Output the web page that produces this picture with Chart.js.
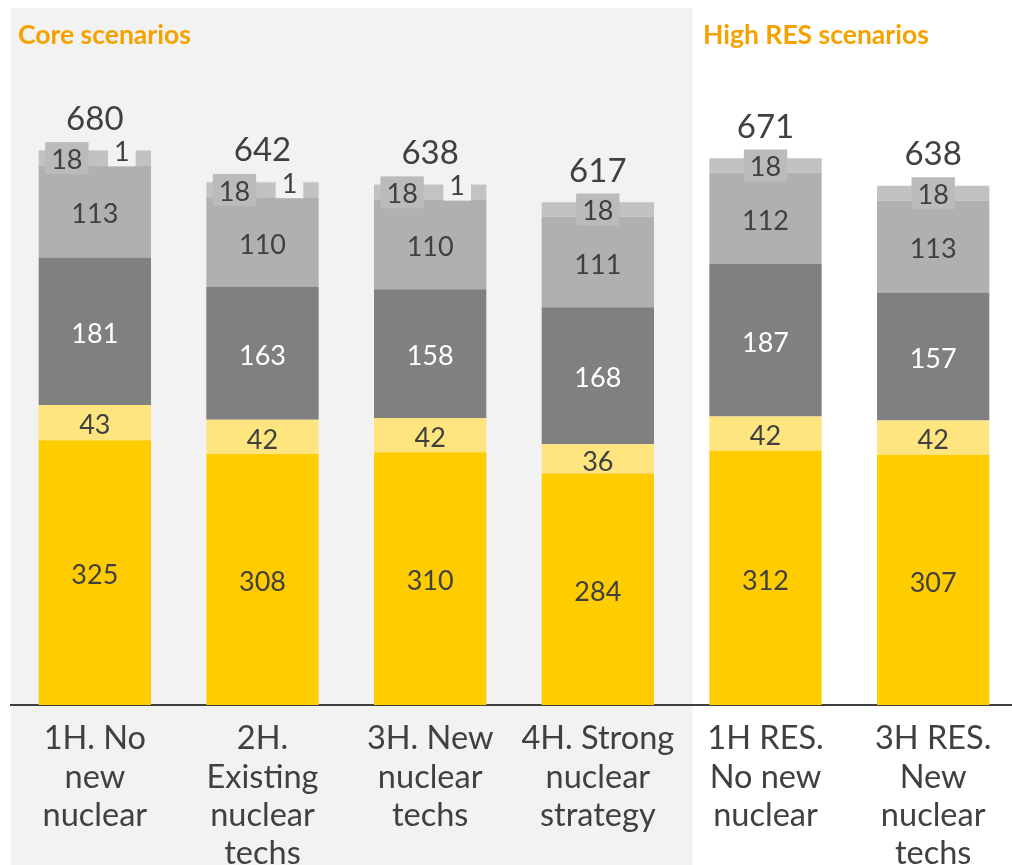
<!DOCTYPE html>
<html>
<head>
<meta charset="utf-8">
<script src="https://cdn.jsdelivr.net/npm/chart.js@4.4.1/dist/chart.umd.min.js"></script>
<style>
  html, body { margin: 0; padding: 0; background: #fff; overflow: hidden; }
  #wrap { width: 1017px; height: 865px; position: relative; }
</style>
</head>
<body>
<div id="wrap"><canvas id="mix"></canvas></div>
<script>
const scenarios = [
  ['1H. No', 'new', 'nuclear'],
  ['2H.', 'Existing', 'nuclear', 'techs'],
  ['3H. New', 'nuclear', 'techs'],
  ['4H. Strong', 'nuclear', 'strategy'],
  ['1H RES.', 'No new', 'nuclear'],
  ['3H RES.', 'New', 'nuclear', 'techs']
];
const yellowVals = [325, 308, 310, 284, 312, 307];
const paleYellowVals = [43, 42, 42, 36, 42, 42];
const darkGreyVals = [181, 163, 158, 168, 187, 157];
const midGreyVals = [113, 110, 110, 111, 112, 113];
const lightGreyVals = [18, 18, 18, 18, 18, 18];
const topVals = [1, 1, 1, 0, 0, 0];
const totals = [680, 642, 638, 617, 671, 638];

const textDark = '#404040';
const orange = '#F5A200';

function ds(label, data, color, textColor) {
  return { label, data, backgroundColor: color, borderWidth: 0,
           barPercentage: 0.67, categoryPercentage: 1, textColor };
}

const mixData = {
  labels: scenarios,
  datasets: [
    ds('yellow', yellowVals, '#FFCC00', textDark),
    ds('pale yellow', paleYellowVals, '#FFE580', textDark),
    ds('dark grey', darkGreyVals, '#808080', '#ffffff'),
    ds('mid grey', midGreyVals, '#B0B0B0', textDark),
    ds('light grey', lightGreyVals, '#C2C2C2', textDark),
    ds('top', topVals, '#D6D6D6', textDark)
  ]
};

// grey panel behind the core scenarios + section titles
const panelPlugin = {
  id: 'panel',
  beforeDraw(chart) {
    const { ctx, scales: { x }, chartArea } = chart;
    const right = x.getPixelForValue(3.565);
    ctx.save();
    ctx.fillStyle = '#F2F2F2';
    ctx.fillRect(chartArea.left, 8, right - chartArea.left, chart.height - 8);
    ctx.fillStyle = orange;
    ctx.font = 'bold 26.5px Lato';
    ctx.textBaseline = 'middle';
    ctx.textAlign = 'left';
    ctx.fillText('Core scenarios', 18, 35);
    ctx.fillText('High RES scenarios', 703, 35);
    ctx.restore();
  }
};

function boxLabel(ctx, text, cx, cy, bg) {
  const w = ctx.measureText(text).width + 12;
  const h = 32;
  ctx.fillStyle = bg;
  ctx.fillRect(cx - w / 2, cy - h / 2, w, h);
  ctx.fillStyle = textDark;
  ctx.fillText(text, cx, cy + 2);
}

const labelPlugin = {
  id: 'segLabels',
  afterDatasetsDraw(chart) {
    const { ctx } = chart;
    ctx.save();
    ctx.textAlign = 'center';
    ctx.textBaseline = 'middle';
    ctx.font = '27px Lato';
    chart.data.datasets.forEach((d, di) => {
      const meta = chart.getDatasetMeta(di);
      meta.data.forEach((bar, i) => {
        const v = d.data[i];
        if (!v) return;
        const { x, y, base } = bar.getProps(['x', 'y', 'base'], true);
        const cy = (y + base) / 2;
        const hasTop = topVals[i] > 0;
        if (di === 4) {
          boxLabel(ctx, String(v), hasTop ? x - 28 : x, cy, '#BBBBBB');
        } else if (di === 5) {
          boxLabel(ctx, String(v), x + 27, cy, '#F2F2F2');
        } else {
          ctx.fillStyle = d.textColor;
          ctx.fillText(String(v), x, cy + 3);
        }
      });
    });
    // totals
    ctx.font = '33px Lato';
    ctx.fillStyle = textDark;
    const last = chart.getDatasetMeta(chart.data.datasets.length - 1);
    last.data.forEach((bar, i) => {
      const { x, y } = bar.getProps(['x', 'y'], true);
      ctx.fillText(String(totals[i]), x, y - 31);
    });
    ctx.restore();
  }
};

const mixConfig = {
  type: 'bar',
  data: mixData,
  options: {
    responsive: true,
    maintainAspectRatio: false,
    animation: false,
    layout: { padding: { left: 11, top: 53, right: 0, bottom: 0 } },
    scales: {
      x: {
        stacked: true,
        grid: { display: false, drawTicks: false },
        border: { display: true, color: textDark, width: 2 },
        ticks: {
          color: textDark,
          font: { family: 'Lato', size: 32.5, lineHeight: 1.17 },
          padding: 15,
          maxRotation: 0,
          autoSkip: false
        },
        afterFit(scale) { scale.height = 160; }
      },
      y: {
        stacked: true,
        display: false,
        min: 0,
        max: 800
      }
    },
    plugins: {
      legend: { display: false },
      tooltip: { enabled: false }
    }
  },
  plugins: [panelPlugin, labelPlugin]
};

new Chart('mix', mixConfig);
</script>
</body>
</html>
